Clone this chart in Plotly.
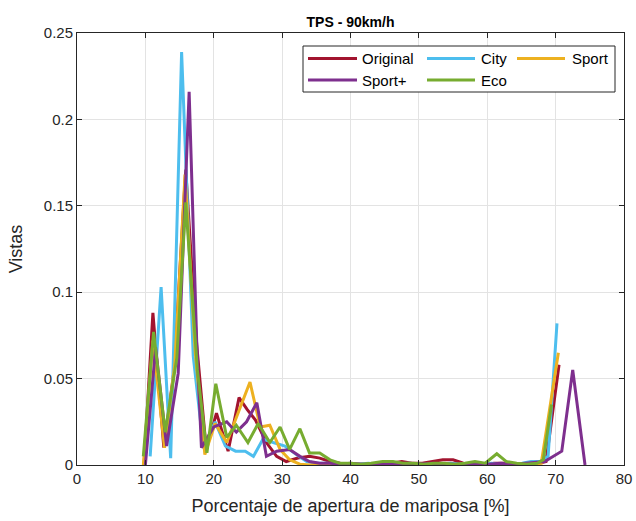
import plotly.graph_objects as go

# ---- data -------------------------------------------------------------
original_x = [9.8, 11.1, 12.7, 14.2, 15.9, 17.5, 18.9, 20.4, 22.1, 23.7, 24.9, 26.1, 27.7,
              29.2, 30.6, 32.3, 34.0, 35.5, 37.0, 38.5, 40.0, 41.5, 43.0, 44.5, 46.0, 47.5,
              49.0, 50.5, 52.0, 53.5, 55.0, 56.5, 58.0, 59.5, 61.0, 62.5, 64.0, 65.5, 67.0,
              68.6, 70.5]
original_y = [0.0, 0.088, 0.010, 0.055, 0.171, 0.070, 0.009, 0.030, 0.008, 0.039, 0.032,
              0.026, 0.013, 0.005, 0.002, 0.004, 0.005, 0.004, 0.002, 0.001, 0.0005, 0.0,
              0.0005, 0.001, 0.001, 0.002, 0.001, 0.001, 0.002, 0.003, 0.003, 0.001, 0.0005,
              0.0, 0.001, 0.001, 0.0005, 0.0, 0.0005, 0.002, 0.058]

city_x = [10.7, 12.3, 13.7, 15.3, 17.0, 18.5, 20.2, 21.7, 23.2, 24.6, 25.8, 27.2, 28.7,
          30.4, 32.1, 33.6, 35.1, 36.6, 38.1, 39.6, 41.1, 42.6, 44.1, 45.6, 47.1, 48.6,
          50.1, 51.6, 53.1, 54.6, 56.1, 57.6, 59.1, 60.6, 62.1, 63.6, 65.1, 66.4, 67.7,
          68.9, 70.2]
city_y = [0.005, 0.103, 0.004, 0.239, 0.063, 0.010, 0.025, 0.011, 0.008, 0.008, 0.005,
          0.015, 0.013, 0.011, 0.006, 0.002, 0.001, 0.001, 0.0005, 0.0, 0.0005, 0.001,
          0.0005, 0.0, 0.0005, 0.001, 0.0005, 0.0, 0.0005, 0.001, 0.0005, 0.0, 0.0005,
          0.001, 0.0005, 0.0005, 0.001, 0.002, 0.002, 0.005, 0.082]

sport_x = [9.7, 11.1, 12.8, 14.3, 15.8, 17.3, 18.7, 20.2, 21.9, 23.8, 25.3, 26.8, 28.2,
           29.7, 31.1, 32.6, 34.1, 35.6, 37.1, 40.0, 43.0, 46.0, 49.0, 52.0, 55.0, 58.0,
           61.0, 64.0, 66.5, 67.9, 70.4]
sport_y = [0.0, 0.072, 0.010, 0.058, 0.168, 0.065, 0.006, 0.024, 0.013, 0.032, 0.048,
           0.022, 0.023, 0.009, 0.003, 0.0005, 0.0, 0.0005, 0.0, 0.0, 0.0005, 0.0, 0.0005,
           0.0, 0.0, 0.0005, 0.0, 0.0, 0.0005, 0.001, 0.065]

sport_plus_x = [10.0, 11.5, 13.1, 14.8, 16.4, 17.5, 18.2, 20.0, 21.9, 23.3, 24.8, 26.3,
                27.7, 29.2, 31.1, 32.6, 34.0, 35.5, 37.0, 38.5, 40.0, 42.0, 44.0, 46.0,
                48.0, 50.0, 52.0, 54.0, 56.0, 58.0, 60.0, 62.0, 64.0, 66.0, 68.4, 70.9,
                72.5, 74.3]
sport_plus_y = [0.0, 0.068, 0.011, 0.053, 0.216, 0.072, 0.010, 0.022, 0.025, 0.019, 0.025,
                0.036, 0.005, 0.008, 0.009, 0.005, 0.002, 0.001, 0.001, 0.0005, 0.001,
                0.0005, 0.001, 0.0005, 0.001, 0.0005, 0.001, 0.0005, 0.0005, 0.001, 0.0005,
                0.001, 0.0005, 0.001, 0.002, 0.008, 0.055, 0.0]

eco_x = [9.7, 11.2, 12.9, 14.6, 15.9, 17.6, 19.0, 20.3, 21.9, 23.3, 25.0, 26.5, 28.2,
         29.7, 31.1, 32.6, 34.0, 35.5, 37.0, 38.4, 40.0, 41.5, 43.0, 44.7, 46.2, 47.7,
         49.2, 50.7, 52.2, 53.7, 55.2, 56.7, 58.2, 59.7, 61.4, 62.8, 64.3, 65.8, 67.3,
         68.2, 69.4]
eco_y = [0.005, 0.077, 0.019, 0.062, 0.152, 0.055, 0.007, 0.047, 0.016, 0.023, 0.013,
         0.024, 0.013, 0.022, 0.009, 0.021, 0.007, 0.007, 0.003, 0.001, 0.001, 0.0005,
         0.001, 0.002, 0.002, 0.001, 0.001, 0.0005, 0.001, 0.001, 0.0005, 0.001, 0.002,
         0.001, 0.0065, 0.002, 0.001, 0.0005, 0.001, 0.003, 0.035]

series_names = ["Original", "City", "Sport", "Sport+", "Eco"]
series_colors = ["#A2142F", "#4DBEEE", "#EDB120", "#7E2F8E", "#77AC30"]
series_data = [(original_x, original_y), (city_x, city_y), (sport_x, sport_y),
               (sport_plus_x, sport_plus_y), (eco_x, eco_y)]

x_ticks = [0, 10, 20, 30, 40, 50, 60, 70, 80]
y_ticks = [0, 0.05, 0.1, 0.15, 0.2, 0.25]
y_tick_text = ["0", "0.05", "0.1", "0.15", "0.2", "0.25"]

# ---- layout geometry --------------------------------------------------
W, H = 636, 521
ML, MR, MT, MB = 77, 12, 33, 56
PW, PH = W - ML - MR, H - MT - MB
FONT = "Liberation Sans, Arial, Helvetica, sans-serif"
INK = "#262626"


def px_x(px):
    return (px - ML) / PW


def px_y(py):
    return (H - MB - py) / PH


fig = go.Figure()
for name, (xs, ys), col in zip(series_names, series_data, series_colors):
    fig.add_trace(go.Scatter(x=xs, y=ys, mode="lines", name=name,
                             line=dict(color=col, width=3), showlegend=False))

axis_common = dict(showline=True, linecolor=INK, linewidth=1, mirror="ticks",
                   ticks="inside", ticklen=5, tickcolor=INK, tickwidth=1,
                   showgrid=True, gridcolor="#e3e3e3", gridwidth=1, zeroline=False,
                   automargin=False,
                   tickfont=dict(family=FONT, size=15, color=INK))

fig.update_xaxes(range=[0, 80], tickvals=x_ticks, **axis_common,
                 title=dict(text="Porcentaje de apertura de mariposa [%]",
                            font=dict(family=FONT, size=18, color=INK), standoff=13))
fig.update_yaxes(range=[0, 0.25], tickvals=y_ticks, ticktext=y_tick_text, **axis_common,
                 title=dict(text="Vistas", font=dict(family=FONT, size=18, color=INK),
                            standoff=16))

# ---- legend box (two rows, three columns) ----------------------------
shapes = [dict(type="rect", xref="paper", yref="paper",
               x0=px_x(303), x1=px_x(615), y0=px_y(92), y1=px_y(46),
               line=dict(color=INK, width=1), fillcolor="white", layer="above")]
annotations = []
cols = [(308, 357, 360), (427, 475, 479), (517, 565, 570)]
rows = [58.5, 80.0]
for i, (name, col) in enumerate(zip(series_names, series_colors)):
    r, c = divmod(i, 3)
    lx0, lx1, tx = cols[c]
    yy = rows[r]
    shapes.append(dict(type="line", xref="paper", yref="paper",
                       x0=px_x(lx0), x1=px_x(lx1), y0=px_y(yy), y1=px_y(yy),
                       line=dict(color=col, width=3), layer="above"))
    annotations.append(dict(xref="paper", yref="paper", x=px_x(tx), y=px_y(yy),
                            text=name, showarrow=False, xanchor="left", yanchor="middle",
                            font=dict(family=FONT, size=15, color="#000000")))

fig.update_layout(
    width=W, height=H,
    margin=dict(l=ML, r=MR, t=MT, b=MB),
    paper_bgcolor="white", plot_bgcolor="white",
    title=dict(text="<b>TPS - 90km/h</b>", x=(ML + PW / 2) / W, xanchor="center",
               y=1 - 22 / H, yanchor="middle",
               font=dict(family=FONT, size=14, color="#000000")),
    shapes=shapes, annotations=annotations,
)

fig.write_html("out.html")
